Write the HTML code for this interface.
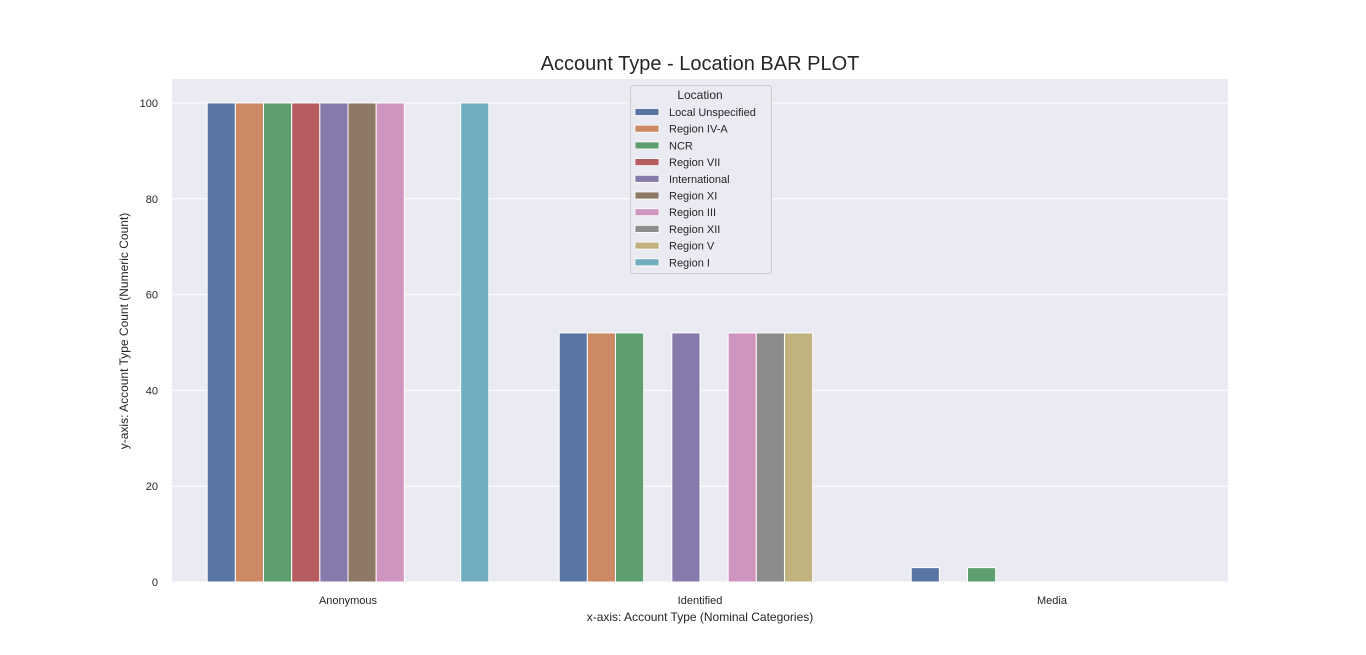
<!DOCTYPE html>
<html><head><meta charset="utf-8"><style>
body{margin:0;background:#fff;}
svg{display:block;font-family:"Liberation Sans",sans-serif;}
</style></head><body>
<svg id="chart" width="1366" height="655" viewBox="0 0 1366 655" xmlns="http://www.w3.org/2000/svg">
<text x="700" y="70" text-anchor="middle" font-size="20" fill="#262626">Account Type - Location BAR PLOT</text>
<rect x="172" y="79" width="1056" height="503" fill="#eaeaf2"/>
<g id="grid"></g>
<g id="bars"></g>
<g id="yticks"></g>
<g id="xticks"></g>
<text x="700" y="621" text-anchor="middle" font-size="12" fill="#262626">x-axis: Account Type (Nominal Categories)</text>
<text transform="translate(128,331) rotate(-90)" text-anchor="middle" font-size="12" fill="#262626">y-axis: Account Type Count (Numeric Count)</text>
<g id="legend"></g>
</svg>
<script>
const categories = ["Anonymous", "Identified", "Media"];
const locations = ["Local Unspecified","Region IV-A","NCR","Region VII","International","Region XI","Region III","Region XII","Region V","Region I"];
const colors = ["#5875a4","#cc8963","#5f9e6e","#b55d60","#857aab","#8d7866","#d095bf","#8c8c8c","#c1b37f","#71aec0"];
const anonymousValues = [100,100,100,100,100,100,100,0,0,100];
const identifiedValues = [52,52,52,0,52,0,52,52,52,0];
const mediaValues = [3,0,3,0,0,0,0,0,0,0];
const yTicks = [0,20,40,60,80,100];

const svg = document.getElementById('chart');
const NS = "http://www.w3.org/2000/svg";
const X0=172, W=1056, Y0=582, YTOP=79, YMAX=105;
const yScale = v => Y0 - v/YMAX*(Y0-YTOP);
const bandW = W/categories.length;
const xCenter = i => X0 + bandW*(i+0.5);
const barW = bandW*0.8/locations.length;
const series = [anonymousValues, identifiedValues, mediaValues];
function mk(tag, attrs, parent){const e=document.createElementNS(NS,tag);for(const k in attrs)e.setAttribute(k,attrs[k]);parent.appendChild(e);return e;}

const grid=document.getElementById('grid'), yt=document.getElementById('yticks');
yTicks.forEach(t=>{
  const l=mk('line',{x1:X0,x2:X0+W,y1:yScale(t),y2:yScale(t),stroke:'#fff','stroke-width':1},grid);
  
  
  const tx=mk('text',{x:158,y:yScale(t)+4,'text-anchor':'end','font-size':11,fill:'#262626'},yt);
  tx.textContent=t;
  
  
});
const bars=document.getElementById('bars'), xt=document.getElementById('xticks');
categories.forEach((c,i)=>{
  const start = xCenter(i) - bandW*0.4;
  series[i].forEach((v,j)=>{
    if(v<=0) return;
    const r=mk('rect',{x:start+j*barW,y:yScale(v),width:barW,height:Y0-yScale(v),fill:colors[j],stroke:'#fff','stroke-width':1},bars);
    
    
  });
  const tx=mk('text',{x:xCenter(i),y:604,'text-anchor':'middle','font-size':11,fill:'#262626'},xt);
  tx.textContent=c;
  
  
});
const lg=document.getElementById('legend');
const box=mk('rect',{x:630.5,y:85.5,width:141,height:188,rx:3,fill:'#eaeaf2',stroke:'#cccccc','stroke-width':1,'fill-opacity':0.9},lg);


const lt=mk('text',{x:700,y:99,'text-anchor':'middle','font-size':12,fill:'#262626'},lg);
lt.textContent='Location';


locations.forEach((n,j)=>{
  const y=112+j*16.7;
  const g=mk('g',{},lg);
  
  
  mk('rect',{x:635,y:y-3.5,width:24,height:7,fill:colors[j],stroke:'#fff','stroke-width':0.8},g);
  const t=mk('text',{x:669,y:y+4,'font-size':11,fill:'#262626'},g);
  t.textContent=n;
});
</script>
</body></html>
